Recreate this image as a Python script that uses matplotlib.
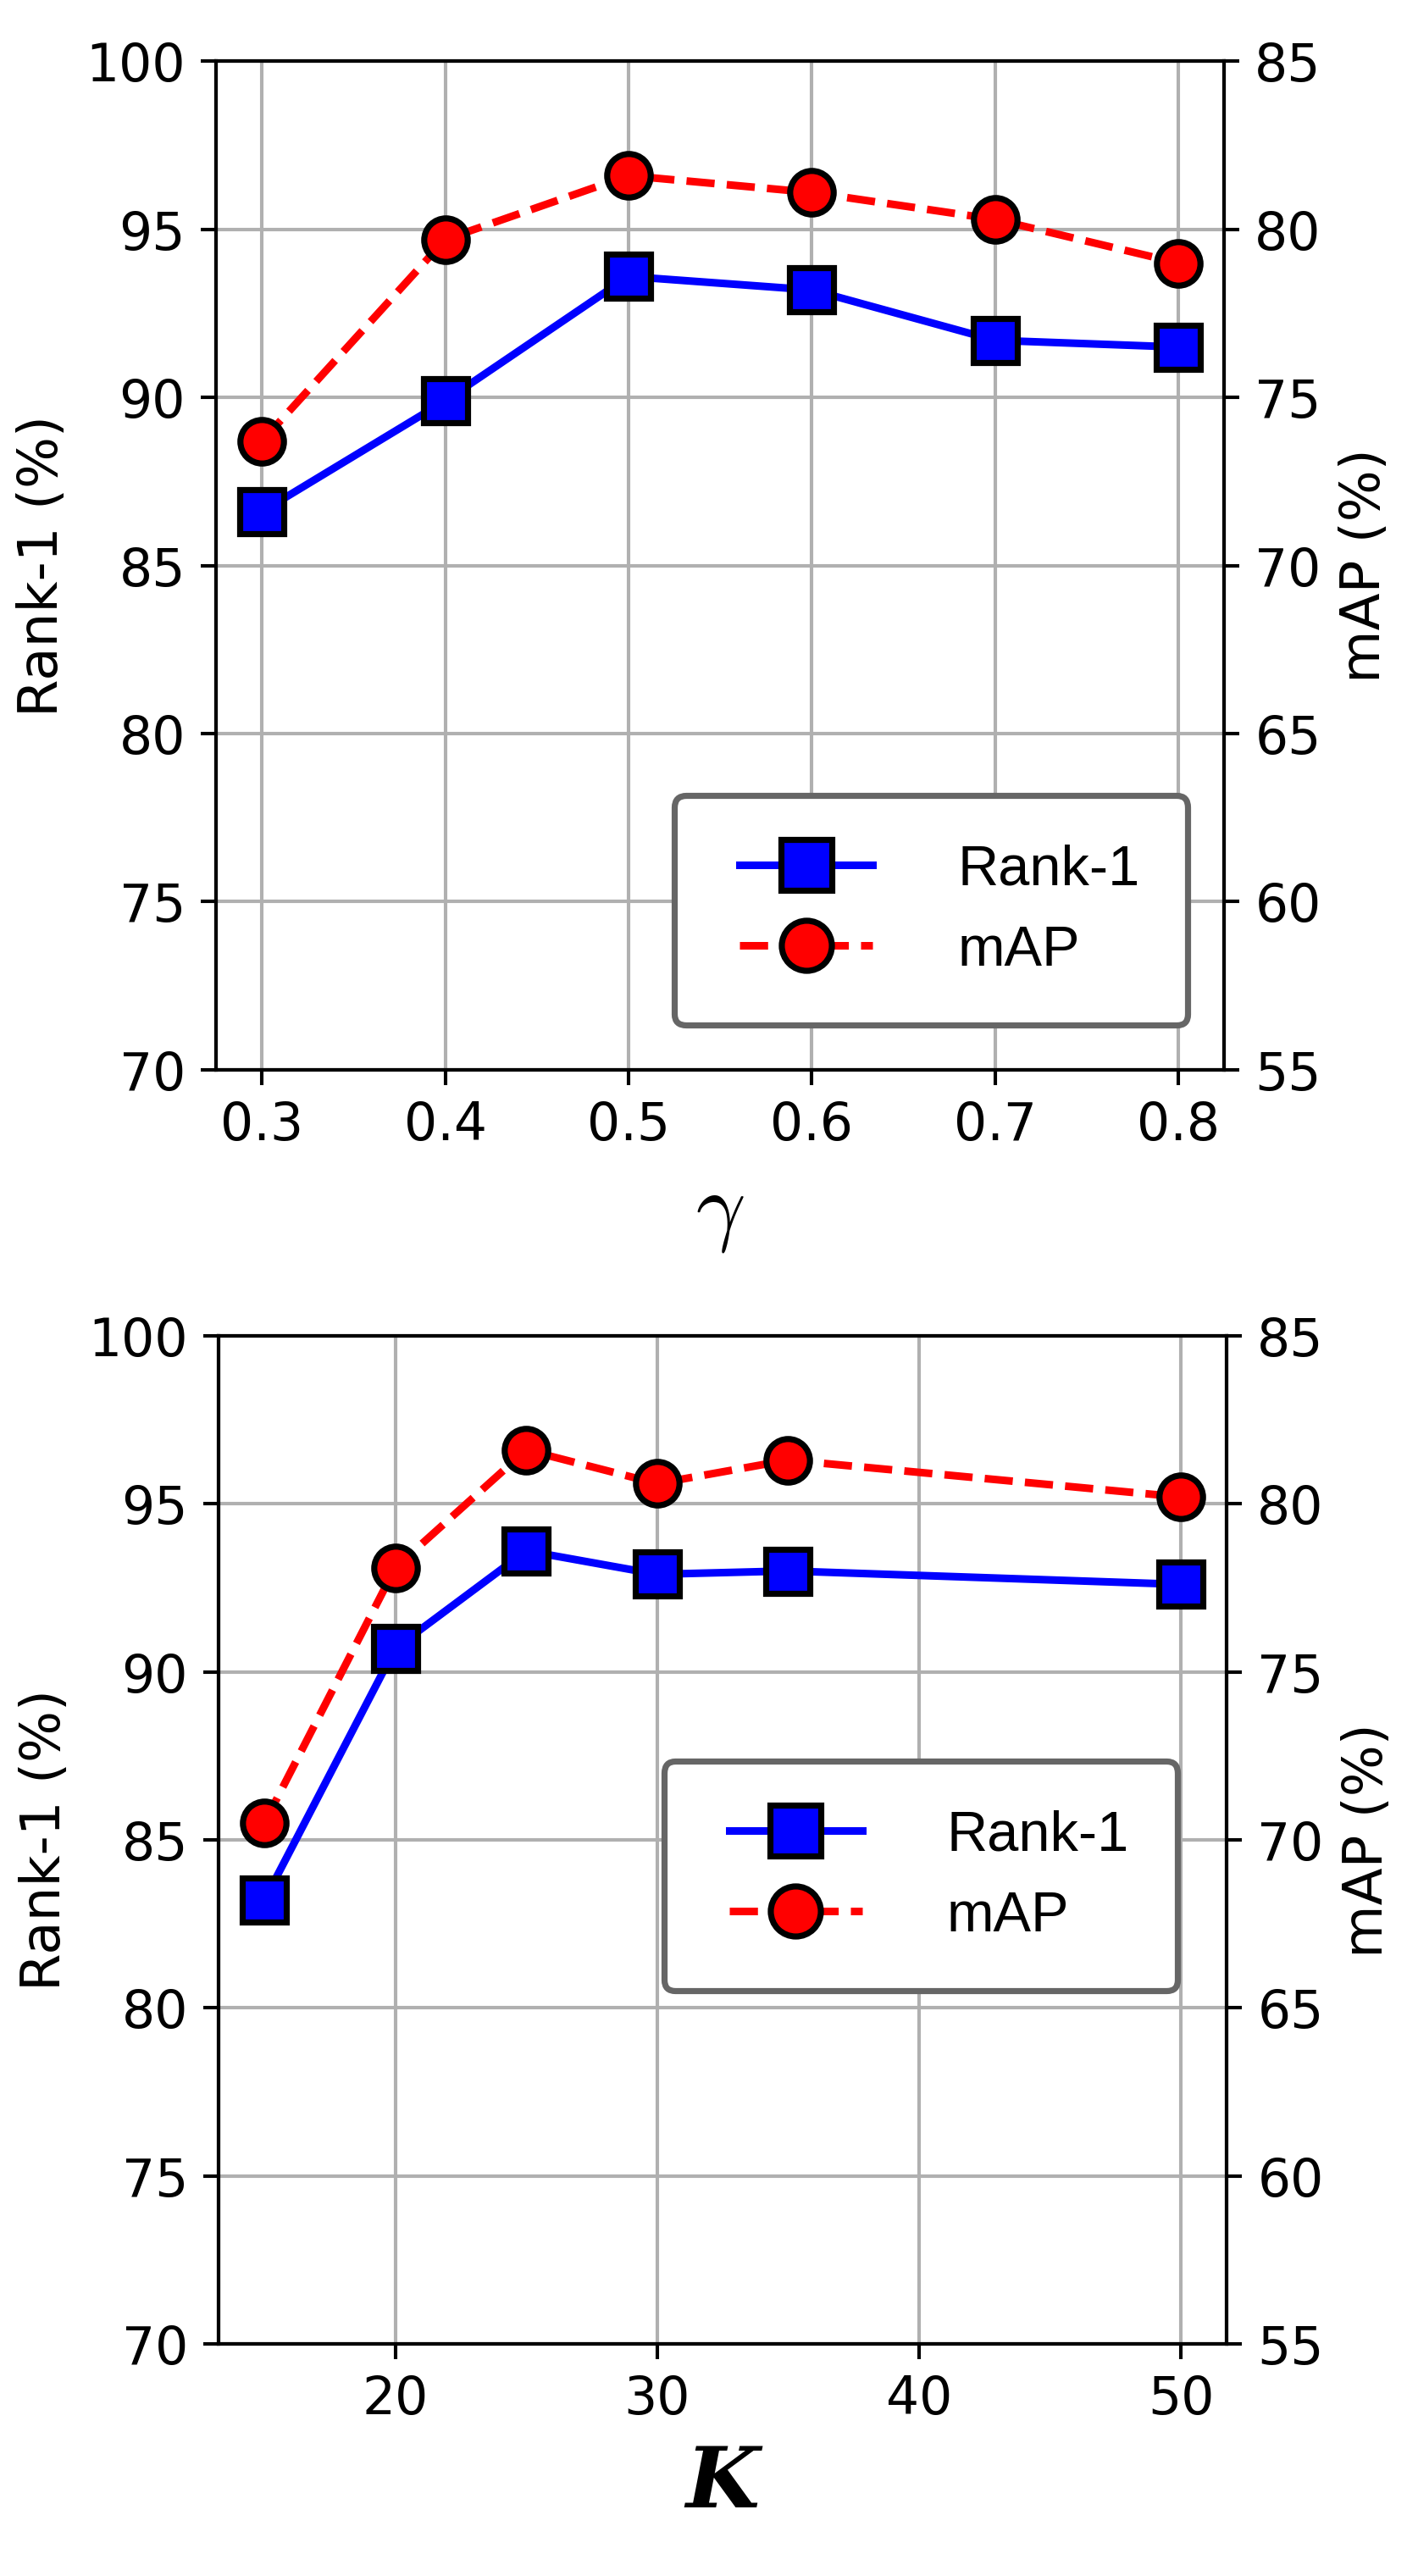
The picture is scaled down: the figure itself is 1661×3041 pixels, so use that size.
import matplotlib
matplotlib.use('Agg')
import matplotlib.pyplot as plt
from matplotlib.lines import Line2D
from matplotlib.legend_handler import HandlerLine2D

# gamma sweep
gamma = [0.3, 0.4, 0.5, 0.6, 0.7, 0.8]
rank1_gamma = [86.6, 89.9, 93.6, 93.2, 91.7, 91.5]
map_gamma = [73.7, 79.7, 81.6, 81.1, 80.3, 79.0]

# K sweep
k_values = [15, 20, 25, 30, 35, 50]
rank1_k = [83.2, 90.7, 93.6, 92.9, 93.0, 92.6]
map_k = [70.5, 78.1, 81.6, 80.6, 81.3, 80.2]

rank1_ticks = [70, 75, 80, 85, 90, 95, 100]
map_ticks = [55, 60, 65, 70, 75, 80, 85]

plt.rcParams['mathtext.fontset'] = 'cm'

DPI = 370
fig = plt.figure(figsize=(1661.5 / DPI, 3041.5 / DPI), dpi=DPI)


def draw_panel(rect, x, rank1, mAP, legend_anchor):
    ax1 = fig.add_axes(rect)
    ax2 = ax1.twinx()
    l1, = ax1.plot(x, rank1, color='blue', linestyle='-', linewidth=1.75,
                   marker='s', markersize=10, markerfacecolor='blue',
                   markeredgecolor='black', markeredgewidth=1.4, label='Rank-1')
    l2, = ax2.plot(x, mAP, color='red', linestyle='--', linewidth=1.75,
                   marker='o', markersize=10, markerfacecolor='red',
                   markeredgecolor='black', markeredgewidth=1.4, label='mAP')
    ax1.set_ylim(70, 100)
    ax2.set_ylim(55, 85)
    ax1.set_yticks(rank1_ticks)
    ax2.set_yticks(map_ticks)
    ax1.grid(True)
    ax1.tick_params(labelsize=12)
    ax2.tick_params(labelsize=12)
    ax1.set_ylabel('Rank-1 (%)', fontsize=12.5)
    ax2.set_ylabel('mAP (%)', fontsize=12.5)
    # legend sits on the twin axis so it is drawn above both lines
    leg = ax2.legend([l1, l2], ['Rank-1', 'mAP'], loc='lower right',
                     bbox_to_anchor=legend_anchor, borderaxespad=0,
                     prop={'family': 'Liberation Sans', 'size': 13},
                     handlelength=2.65, handletextpad=1.5, borderpad=0.85,
                     labelspacing=0.5, markerscale=1.15, framealpha=1,
                     handler_map={Line2D: HandlerLine2D(xpad=0.3)})
    leg.get_frame().set_edgecolor('#666666')
    leg.get_frame().set_linewidth(1.4)
    return ax1


ax_top = draw_panel([0.1535, 0.5847, 0.7164, 0.3913], gamma, rank1_gamma, map_gamma,
                    (0.964, 0.044))
ax_top.set_xticks(gamma)
ax_top.set_xlabel(r'$\gamma$', fontsize=20)

ax_bot = draw_panel([0.1553, 0.0901, 0.7164, 0.3913], k_values, rank1_k, map_k,
                    (0.951, 0.350))
ax_bot.set_xlabel('K', fontsize=19.5, fontfamily='DejaVu Serif',
                  fontweight='bold', fontstyle='italic')

fig.savefig('out.png', dpi=DPI)
